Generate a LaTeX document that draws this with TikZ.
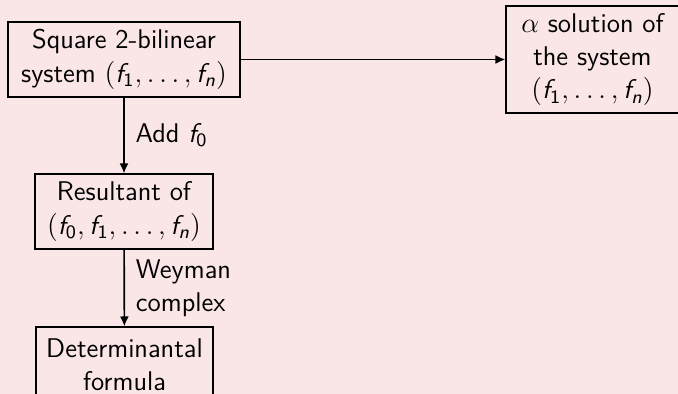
\documentclass[tikz,border=0pt]{standalone}
\usepackage{amsmath}
\usetikzlibrary{arrows.meta}
\definecolor{bgpink}{RGB}{250,230,230}
\newcommand{\sfi}[1]{\text{\sffamily\itshape #1}}
\newcommand{\sfn}[1]{\text{\sffamily #1}}
\begin{document}
\begin{tikzpicture}[x=0.4255pt,y=-0.4255pt,
  every node/.style={font=\fontsize{11.5}{14.2}\selectfont\sffamily},
  boxnode/.style={draw,line width=0.55pt,align=center,inner sep=0pt},
  lbl/.style={anchor=west,align=left,inner sep=0pt},
  arr/.style={-{Latex[length=4.2pt,width=3.8pt]},line width=0.7pt}]
\fill[bgpink] (0,0) rectangle (678,394);
\useasboundingbox (0,0) rectangle (678,394);
\node[boxnode,minimum width=98.7pt,minimum height=31.9pt] (sq) at (124,59.5)
  {Square 2-bilinear\\system $(\sfi{f}_{\sfn{1}},\ldots,\sfi{f}_{\sfi{n}})$};
\node[boxnode,minimum width=73.6pt,minimum height=45.5pt] (sol) at (592.5,59.5)
  {$\alpha$ solution of\\the system\\$(\sfi{f}_{\sfn{1}},\ldots,\sfi{f}_{\sfi{n}})$};
\node[boxnode,minimum width=75.7pt,minimum height=31.9pt] (res) at (124,211.5)
  {Resultant of\\$(\sfi{f}_{\sfn{0}},\sfi{f}_{\sfn{1}},\ldots,\sfi{f}_{\sfi{n}})$};
\node[boxnode,minimum width=75.3pt,minimum height=31.9pt] (det) at (124.5,364.5)
  {Determinantal\\formula};
\draw[arr] (sq) -- (sol);
\draw[arr] (sq) -- (res) node[lbl,pos=0.5,xshift=4.6pt] (add) {Add $\sfi{f}_{\sfn{0}}$};
\draw[arr] (res) -- (det) node[lbl,pos=0.5,xshift=4.6pt] (wey) {Weyman\\complex};
\end{tikzpicture}
\end{document}
